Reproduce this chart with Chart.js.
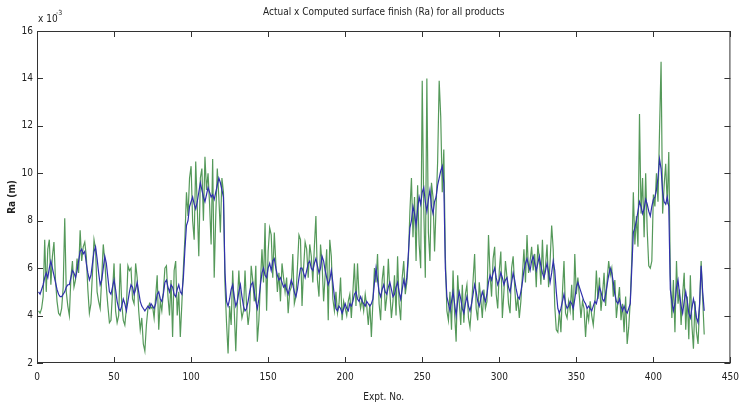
<!DOCTYPE html>
<html>
<head>
<meta charset="utf-8">
<script src="https://cdn.jsdelivr.net/npm/chart.js@4.4.1/dist/chart.umd.min.js"></script>
<style>
  html, body { margin: 0; padding: 0; background: #fff; }
</style>
</head>
<body>
<canvas id="raChart" width="747" height="406"></canvas>
<script>
// Ra values are in units of 1e-3 m (the axis carries the "x 10^-3" multiplier)
const xTicks = [0, 50, 100, 150, 200, 250, 300, 350, 400, 450];
const yTicks = [2, 4, 6, 8, 10, 12, 14, 16];

// blue, smoother series
const computedRa = [
  5.0, 4.9, 5.1, 5.3, 5.6, 5.8, 5.6, 6.0, 6.3, 6.0,
  5.7, 5.4, 5.1, 4.9, 4.8, 4.8, 4.9, 5.0, 5.2, 5.3,
  5.3, 5.6, 5.9, 5.8, 5.6, 5.9, 6.3, 6.7, 6.8, 6.6,
  6.7, 6.2, 5.8, 5.5, 5.7, 6.2, 6.7, 6.9, 6.4, 5.8,
  5.3, 5.5, 6.0, 6.5, 6.2, 5.6, 5.0, 4.9, 5.2, 5.5,
  5.1, 4.6, 4.3, 4.2, 4.4, 4.7, 4.5, 4.2, 4.6, 5.0,
  5.3, 5.2, 4.9, 5.1, 5.4, 5.0, 4.6, 4.4, 4.3, 4.2,
  4.3, 4.4, 4.3, 4.5, 4.4, 4.3, 4.5, 4.9, 5.0, 4.7,
  4.6, 4.9, 5.4, 5.5, 5.2, 5.0, 5.3, 5.2, 4.9, 4.8,
  5.1, 5.3, 5.0, 4.9, 5.6, 6.8, 7.8, 8.0, 8.6, 8.8,
  9.0, 8.7, 8.5, 8.8, 9.2, 9.6, 9.3, 9.0, 8.8, 9.1,
  9.4, 9.2, 9.0, 9.1, 8.9, 9.2, 9.5, 9.8, 9.6, 9.3,
  9.0, 5.8, 4.6, 4.4, 4.7, 5.1, 5.3, 4.8, 4.4, 4.6,
  5.0, 5.3, 4.8, 4.4, 4.2, 4.3, 4.6, 5.0, 5.3, 5.4,
  5.0, 4.6, 4.3, 4.7, 5.3, 5.8, 6.0, 5.7, 5.6, 6.0,
  6.2, 5.9, 6.3, 6.4, 6.0, 5.7, 5.5, 5.6, 5.4, 5.2,
  5.3, 5.1, 4.9, 5.2, 5.5, 5.3, 5.0, 4.8, 5.1, 5.6,
  6.0, 6.0, 5.8, 5.6, 5.9, 6.2, 6.3, 6.0, 5.9, 6.2,
  6.4, 6.1, 5.8, 6.0, 6.5, 6.3, 5.9, 5.6, 5.3, 5.5,
  5.9, 5.4, 4.8, 4.3, 4.2, 4.4, 4.3, 4.1, 4.3, 4.5,
  4.3, 4.2, 4.5, 4.4, 4.6, 4.9, 5.0, 4.7, 4.6, 4.8,
  4.6, 4.5, 4.4, 4.6, 4.5, 4.4, 4.5, 4.7, 5.4, 6.0,
  5.5, 5.0, 4.8, 5.1, 5.3, 5.0, 4.9, 5.2, 5.4, 5.1,
  4.8, 4.9, 5.2, 5.4, 5.0, 4.7, 5.1, 5.5, 5.2, 5.6,
  6.6, 7.7, 8.0, 8.6, 8.3, 7.8, 8.5, 9.0, 8.7, 9.2,
  9.4, 8.8, 8.4, 8.9, 9.3, 8.6, 8.3, 8.8, 9.0, 9.5,
  9.8, 10.1, 10.3, 9.6, 6.0, 4.8, 4.5, 4.2, 4.6, 5.0,
  4.5, 4.0, 4.6, 5.0, 4.7, 4.3, 4.1, 4.5, 4.8, 4.4,
  4.2, 4.5, 4.9, 5.3, 5.0, 4.6, 4.4, 4.7, 5.0, 4.8,
  4.6, 4.9, 5.4, 5.7, 5.5, 5.8, 6.0, 5.6, 5.3, 5.5,
  5.8, 5.6, 5.3, 5.5, 5.6, 5.2, 5.0, 5.4, 5.8, 5.5,
  5.1, 4.8, 4.7, 5.0, 5.4, 5.9, 6.2, 6.4, 6.1, 5.9,
  6.3, 6.5, 6.2, 5.9, 6.2, 6.5, 6.1, 5.8, 5.6, 5.9,
  6.2, 5.8, 5.4, 5.8, 6.3, 5.9, 5.0, 4.3, 4.1, 4.3,
  4.6, 4.9, 4.5, 4.3, 4.4, 4.6, 4.5, 4.3, 4.7, 5.2,
  5.4, 5.2, 5.0, 4.8, 4.6, 4.5, 4.3, 4.4, 4.3, 4.2,
  4.4, 4.6, 4.5, 4.8, 5.2, 5.0, 4.7, 4.6, 4.9, 5.3,
  5.7, 6.0, 5.8, 5.4, 4.9, 4.6, 4.5, 4.7, 4.4, 4.2,
  4.4, 4.2, 4.1, 4.3, 4.5, 6.0, 7.5, 7.7, 8.0, 8.4,
  8.8, 8.6, 8.3, 8.5, 8.9, 8.7, 8.4, 8.2, 8.6, 8.9,
  9.0, 9.3, 9.8, 10.6, 10.2, 9.2, 8.8, 8.7, 9.0, 8.6,
  5.1, 4.6, 4.2, 4.5, 5.2, 5.5, 4.9, 4.4, 4.1, 4.6,
  5.0, 4.6, 4.1, 3.9, 4.3, 4.7, 4.4, 3.9, 3.7, 4.5,
  6.1, 5.0, 4.2
];

// green, noisier series
const actualRa = [
  4.2, 4.1, 4.3, 4.8, 7.2, 5.0, 6.8, 7.2, 5.3, 6.5,
  7.1, 5.5, 4.6, 4.1, 4.0, 4.3, 5.2, 8.1, 5.0, 4.4,
  4.0, 5.6, 6.3, 5.2, 5.5, 6.4, 5.8, 7.6, 6.3, 6.9,
  7.1, 6.5, 5.1, 4.1, 4.5, 5.8, 7.2, 6.8, 5.0, 4.6,
  4.3, 5.6, 7.0, 6.3, 5.2, 4.4, 3.7, 3.8, 5.0, 6.2,
  4.2, 3.7, 4.0, 6.2, 4.5, 3.8, 3.6, 4.3, 6.1, 5.9,
  6.0, 4.7, 4.5, 6.2, 5.6, 4.2, 3.4, 3.9, 2.8, 2.5,
  3.6, 4.3, 4.5, 4.3, 4.4, 3.9, 4.8, 5.7, 3.4, 4.6,
  4.2, 5.0, 6.0, 6.1, 4.8, 4.0, 5.5, 3.1, 5.9, 6.3,
  4.0, 5.0, 3.1, 4.5, 6.0, 7.3, 9.2, 8.2, 9.8, 10.3,
  8.0, 7.2, 10.5, 8.6, 6.5, 9.8, 10.2, 8.0, 10.7, 9.3,
  10.0, 8.7, 7.0, 10.6, 5.6, 8.2, 10.2, 9.0, 7.5, 9.8,
  9.2, 5.3, 3.7, 2.4, 4.4, 3.6, 5.9, 4.2, 2.5, 4.5,
  5.9, 4.5, 3.9, 4.2, 5.9, 4.4, 3.6, 4.2, 6.1, 5.5,
  4.6, 6.1, 2.9, 3.8, 5.4, 6.8, 5.4, 7.9, 4.2, 6.7,
  7.7, 7.4, 5.6, 7.5, 6.2, 5.0, 5.8, 4.6, 6.2, 5.6,
  5.0, 5.6, 4.1, 5.0, 5.2, 6.6, 4.5, 4.8, 6.0, 7.4,
  7.2, 4.4, 6.0, 7.1, 6.8, 5.6, 7.0, 6.5, 5.4, 6.9,
  8.2, 5.5, 4.8, 7.0, 6.2, 4.6, 5.7, 6.8, 3.8, 7.2,
  6.5, 4.7, 4.2, 5.0, 4.1, 4.5, 5.6, 3.8, 4.6, 4.3,
  4.0, 4.6, 4.9, 3.9, 5.0, 6.2, 4.4, 6.2, 4.8, 4.3,
  4.7, 4.2, 4.9, 4.4, 3.6, 4.5, 3.1, 4.6, 6.0, 5.4,
  6.6, 4.5, 3.8, 5.5, 6.1, 4.2, 4.8, 6.4, 5.0, 3.9,
  4.6, 5.7, 4.0, 6.5, 4.5, 3.8, 5.6, 6.3, 4.9, 5.4,
  6.4, 8.4, 9.8, 7.3, 9.0, 6.3, 9.5, 7.0, 6.0, 13.9,
  8.5, 5.6, 14.0, 7.5, 6.3, 9.6, 9.0, 6.7, 8.6, 10.5,
  13.9, 12.4, 9.2, 11.0, 6.5, 4.2, 3.8, 5.0, 3.4, 5.9,
  4.1, 2.9, 5.7, 4.6, 3.6, 5.3, 3.7, 4.9, 5.3, 3.9,
  3.5, 4.4, 5.5, 6.6, 4.3, 3.8, 5.4, 4.7, 3.9, 5.1,
  4.3, 4.6, 7.4, 5.8, 4.8, 6.4, 6.9, 4.9, 4.3, 5.9,
  6.7, 3.9, 5.0, 6.3, 5.6, 4.5, 4.1, 6.0, 6.5, 5.2,
  4.2, 4.8, 3.9, 4.6, 5.7, 6.8, 5.4, 7.4, 5.8, 6.3,
  6.9, 5.9, 6.6, 5.2, 7.0, 6.4, 5.3, 7.2, 5.5, 6.1,
  7.0, 5.2, 6.3, 7.8, 6.8, 4.4, 3.4, 3.3, 4.2, 3.3,
  5.0, 6.3, 4.1, 3.9, 4.6, 4.2, 5.3, 3.8, 6.6, 4.9,
  5.6, 4.8, 3.9, 4.6, 4.3, 3.1, 4.2, 3.8, 4.6, 4.0,
  3.6, 4.4, 5.9, 4.7, 5.6, 4.2, 4.9, 5.8, 4.4, 5.5,
  6.3, 5.7, 6.0, 4.8, 5.5, 3.9, 4.6, 5.2, 3.8, 4.5,
  3.3, 4.8, 2.8, 3.5, 4.6, 6.4, 9.2, 7.0, 8.2, 6.9,
  12.5, 8.3, 9.8, 7.3, 10.0, 7.6, 6.1, 6.0, 6.3, 9.1,
  8.6, 10.0, 8.8, 11.8, 14.7, 8.3, 9.5, 10.4, 8.7, 10.9,
  5.7, 3.9, 5.5, 3.3, 6.3, 4.5, 5.1, 3.6, 4.9, 5.8,
  3.4, 4.8, 3.0, 5.7, 3.6, 2.6, 4.6, 3.3, 2.8, 4.4,
  6.3, 4.7, 3.2
];

const chartTitle = 'Actual x Computed surface finish (Ra) for all products';
const fontFamily = "'Liberation Sans Narrow', 'DejaVu Sans Condensed', 'Liberation Sans', sans-serif";

// turn the value lists into x/y points (experiment numbers start at 1)
function toPoints(values) {
  return values.map((v, i) => ({ x: i + 1, y: v }));
}

// MATLAB style box with inward ticks, title and the exponent label
const matlabFrame = {
  id: 'matlabFrame',
  afterDraw(chart) {
    const ctx = chart.ctx;
    const a = chart.chartArea;
    const x = chart.scales.x;
    const y = chart.scales.y;
    ctx.save();
    ctx.strokeStyle = '#333';
    ctx.lineWidth = 1;
    ctx.strokeRect(a.left + 0.5, a.top + 0.5, a.right - a.left - 1, a.bottom - a.top - 1);
    ctx.beginPath();
    xTicks.forEach(t => {
      const px = Math.round(x.getPixelForValue(t)) + 0.5;
      ctx.moveTo(px, a.bottom); ctx.lineTo(px, a.bottom - 6);
      ctx.moveTo(px, a.top); ctx.lineTo(px, a.top + 6);
    });
    yTicks.forEach(t => {
      const py = Math.round(y.getPixelForValue(t)) + 0.5;
      ctx.moveTo(a.left, py); ctx.lineTo(a.left + 6, py);
      ctx.moveTo(a.right, py); ctx.lineTo(a.right - 6, py);
    });
    ctx.stroke();

    ctx.fillStyle = '#222';
    ctx.textAlign = 'center';
    ctx.textBaseline = 'middle';
    ctx.font = '10px ' + fontFamily;
    ctx.fillText(chartTitle, (a.left + a.right) / 2, 12);

    ctx.textAlign = 'left';
    ctx.font = '10px ' + fontFamily;
    ctx.fillText('x 10', a.left + 1, 19);
    ctx.font = '7px ' + fontFamily;
    ctx.fillText('-3', a.left + 19, 13);
    ctx.restore();
  }
};

new Chart(document.getElementById('raChart').getContext('2d'), {
  type: 'line',
  data: {
    datasets: [{
      label: 'Computed',
      data: toPoints(computedRa),
      borderColor: '#3030ac',
      borderWidth: 1.2,
      pointRadius: 0,
      tension: 0
    }, {
      label: 'Actual',
      data: toPoints(actualRa),
      borderColor: '#55995a',
      borderWidth: 1.2,
      pointRadius: 0,
      tension: 0
    }]
  },
  options: {
    responsive: false,
    animation: false,
    layout: { padding: { top: 31, right: 16, left: 0, bottom: 0 } },
    plugins: {
      legend: { display: false },
      tooltip: { enabled: false },
      title: { display: false }
    },
    scales: {
      x: {
        type: 'linear',
        min: 0,
        max: 450,
        afterBuildTicks: s => { s.ticks = xTicks.map(v => ({ value: v })); },
        afterFit: s => { s.height = 43; },
        grid: { display: false, drawTicks: false },
        border: { display: false },
        ticks: { color: '#222', padding: 8, font: { family: fontFamily, size: 10 } },
        title: {
          display: true,
          text: 'Expt. No.',
          color: '#222',
          padding: { top: 0, bottom: 3 },
          font: { family: fontFamily, size: 10 }
        }
      },
      y: {
        min: 2,
        max: 16,
        afterBuildTicks: s => { s.ticks = yTicks.map(v => ({ value: v })); },
        afterFit: s => { s.width = 37; },
        grid: { display: false, drawTicks: false },
        border: { display: false },
        ticks: { color: '#222', padding: 4, font: { family: fontFamily, size: 10 } },
        title: {
          display: true,
          text: 'Ra (m)',
          color: '#222',
          padding: { top: 6, bottom: 0 },
          font: { family: fontFamily, size: 10, weight: 'bold' }
        }
      }
    }
  },
  plugins: [matlabFrame]
});
</script>
</body>
</html>
